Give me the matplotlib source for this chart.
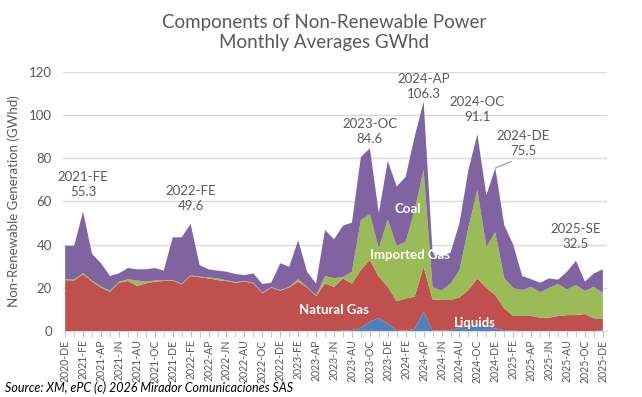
import numpy as np
import matplotlib
matplotlib.use("Agg")
import matplotlib.pyplot as plt

plt.rcParams['font.family'] = ['Lato', 'DejaVu Sans']

# ==========================================
# Data (GWhd, monthly averages, 2020-DE .. 2025-DE)
# ==========================================

month_abbr = ['EN', 'FE', 'MR', 'AP', 'MY', 'JN', 'JL', 'AU', 'SE', 'OC', 'NO', 'DE']
months = ['2020-DE'] + [f"{y}-{m}" for y in range(2021, 2026) for m in month_abbr]

liquids = [0, 0, 0, 0, 0, 0, 0, 0, 0, 0,
           0, 0, 0, 0, 0, 0, 0, 0, 0, 0,
           0, 0, 0, 0, 0, 0, 0, 0, 0, 0,
           0, 0.2, 0.5, 1.5, 4.5, 6.0, 3.5, 0.5, 0.2, 1.0,
           9.0, 0.3, 0.2, 0.5, 1.5, 2.5, 3.0, 2.5, 1.2, 0.5,
           0.2, 0, 0, 0, 0, 0, 0, 0, 0, 0,
           0.5]

# liquids + natural gas (top of red band)
red_top = [23.6, 23.4, 26.3, 22.9, 20.1, 18.2, 22.4, 23.2, 20.9, 22.1,
           22.9, 23.2, 23.4, 21.6, 25.5, 24.9, 24.4, 23.6, 23.2, 22.4,
           22.9, 22.1, 17.5, 20.1, 18.7, 20.2, 22.9, 20.2, 16.2, 22.1,
           20.5, 24.4, 22.0, 28.3, 32.9, 25.2, 20.5, 13.8, 15.1, 15.9,
           29.8, 14.7, 14.4, 14.4, 15.6, 19.0, 24.4, 20.0, 16.7, 10.5,
           7.0, 7.0, 7.0, 6.2, 6.2, 7.0, 7.4, 7.4, 7.9, 5.9,
           5.9]

# + imported gas (top of green band)
green_top = [24.0, 23.8, 26.8, 23.3, 20.6, 18.8, 22.8, 24.0, 23.4, 23.0,
             23.4, 23.5, 23.7, 21.9, 25.8, 25.2, 24.9, 24.4, 23.5, 22.7,
             23.2, 22.4, 17.8, 20.4, 19.0, 20.5, 24.0, 20.5, 16.5, 25.5,
             24.5, 25.0, 27.5, 51.4, 54.2, 38.3, 51.7, 39.4, 41.4, 56.0,
             74.6, 20.3, 18.8, 21.9, 28.2, 48.0, 65.3, 39.0, 45.8, 24.5,
             20.0, 19.0, 20.5, 18.0, 20.0, 21.8, 19.3, 21.3, 18.6, 20.5,
             17.6]

# total (top of coal band)
total = [39.4, 39.5, 55.3, 35.7, 31.4, 25.5, 26.7, 29.2, 28.6, 28.6,
         29.2, 28.0, 43.4, 43.4, 49.6, 30.6, 28.6, 28.0, 27.5, 26.4,
         25.9, 26.7, 21.8, 22.4, 31.4, 29.8, 42.0, 27.5, 22.0, 46.8,
         42.5, 48.8, 50.2, 80.6, 84.6, 54.6, 78.8, 66.9, 71.5, 90.0,
         106.3, 36.3, 34.4, 36.3, 49.9, 74.6, 91.1, 63.0, 75.5, 49.0,
         40.0, 25.5, 24.0, 22.4, 24.4, 23.8, 27.5, 32.5, 22.9, 26.7,
         28.6]

natural_gas = (np.array(red_top) - np.array(liquids)).tolist()
imported_gas = (np.array(green_top) - np.array(red_top)).tolist()
coal = (np.array(total) - np.array(green_top)).tolist()

# peak call-outs: (month, label position in GWhd)
peaks = ['2021-FE', '2022-FE', '2023-OC', '2024-AP', '2024-OC', '2025-SE']
peak_text_y = [61.5, 55.3, 86.3, 106.8, 96.4, 37.5]

# ==========================================
# Plot
# ==========================================

GRAY = "#595959"
colors = ["#4F81BD", "#C0504D", "#9BBB59", "#8064A2"]
names = ["Liquids", "Natural Gas", "Imported Gas", "Coal"]

fig = plt.figure(figsize=(6.42, 3.97), dpi=100)
ax = fig.add_axes([0.098, 0.166, 0.848, 0.653])

x = np.arange(len(months))
ax.stackplot(x, liquids, natural_gas, imported_gas, coal,
             colors=colors, labels=names, linewidth=0)

ax.set_ylim(0, 120)
ax.set_xlim(-0.25, 60.5)
ax.set_yticks(range(0, 121, 20))
ax.yaxis.grid(True, color="#D9D9D9", linewidth=1)
ax.set_axisbelow(True)
for s in ["top", "right", "left"]:
    ax.spines[s].set_visible(False)
ax.spines["bottom"].set_color("#D9D9D9")
ax.tick_params(axis="y", length=0, labelsize=9.5, colors=GRAY, pad=8)

ax.set_xticks(x[::2])
ax.set_xticklabels(months[::2], rotation=90, fontsize=7.6, color=GRAY)
ax.set_xticks(x, minor=True)
ax.tick_params(axis="x", which="both", length=4, color="#BFBFBF", pad=2)

ax.set_ylabel("Non-Renewable Generation (GWhd)", fontsize=9.5, color=GRAY, labelpad=6)

# peak annotations
tot = np.array(total)
for m, ty in zip(peaks, peak_text_y):
    i = months.index(m)
    ax.text(i, ty, f"{m}\n{tot[i]:.1f}", ha="center", va="bottom",
            fontsize=9.5, color=GRAY, linespacing=1.3)

# 2024-DE with a leader line
i = months.index('2024-DE')
ax.annotate(f"2024-DE\n{tot[i]:.1f}", xy=(i, tot[i]), xytext=(51.1, 80.8),
            ha="center", va="bottom", fontsize=9.5, color=GRAY, linespacing=1.3,
            arrowprops=dict(arrowstyle="-", color="#A6A6A6", lw=1,
                            shrinkA=4, shrinkB=0, relpos=(0.5, 0.0)))

# band labels
ax.text(38.2, 56.5, "Coal", color="white", fontsize=9.5, fontweight="bold",
        ha="center", va="center")
ax.text(38.5, 35.2, "Imported Gas", color="white", fontsize=9.5, fontweight="bold",
        ha="center", va="center")
ax.text(30.0, 9.7, "Natural Gas", color="white", fontsize=9.5, fontweight="bold",
        ha="center", va="center")
ax.text(45.7, 3.7, "Liquids", color="white", fontsize=9.5, fontweight="bold",
        ha="center", va="center")

fig.text(0.505, 0.965, "Components of Non-Renewable Power\nMonthly Averages GWhd",
         ha="center", va="top", fontsize=13.5, color=GRAY, linespacing=1.25)
fig.text(0.008, 0.008, "Source: XM, ePC (c) 2026 Mirador Comunicaciones SAS",
         ha="left", va="bottom", fontsize=9, style="italic", color="black")

fig.savefig("out.png", dpi=100)
